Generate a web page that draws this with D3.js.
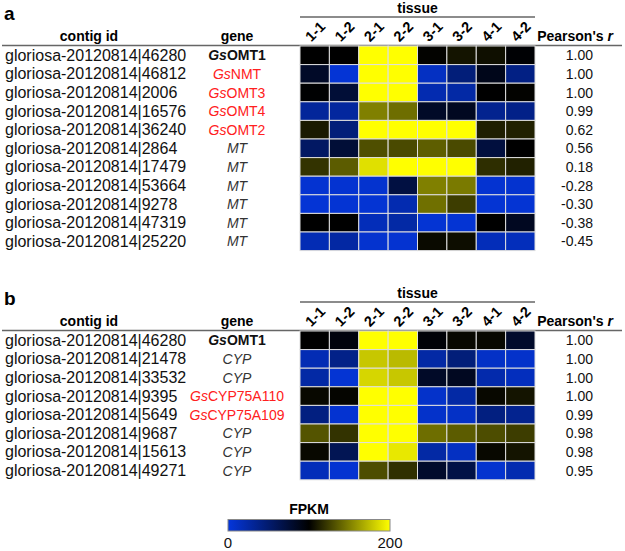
<!DOCTYPE html>
<html><head><meta charset="utf-8">
<script src="https://cdn.jsdelivr.net/npm/d3@7"></script>
<style>body{margin:0;background:#fff}svg{display:block;font-family:"Liberation Sans",Arial,sans-serif}</style>
</head><body><svg id="c" width="625" height="551"></svg>
<script>
const tissues = ["1-1","1-2","2-1","2-2","3-1","3-2","4-1","4-2"];
// Panel a
const contigsA = ["46280","46812","2006","16576","36240","2864","17479","53664","9278","47319","25220"];
const genesA = ["GsOMT1","GsNMT","GsOMT3","GsOMT4","GsOMT2","MT","MT","MT","MT","MT","MT"];
const pearsonA = ["1.00","1.00","1.00","0.99","0.62","0.56","0.18","-0.28","-0.30","-0.38","-0.45"];
const fpkmA = [
  [100,100,250,250,101,108,106,98],
  [82,3,250,250,12,45,88,40],
  [99,75,250,250,20,25,100,101],
  [30,28,150,143,82,85,35,38],
  [110,45,220,220,220,220,112,113],
  [55,75,131,129,137,129,72,100],
  [120,136,188,215,215,215,118,113],
  [5,5,6,70,150,148,5,6],
  [3,4,4,20,144,124,4,4],
  [100,100,16,25,4,4,100,85],
  [18,26,6,5,104,105,16,15]
];
// Panel b
const contigsB = ["46280","21478","33532","9395","5649","9687","15613","49271"];
const genesB = ["GsOMT1","CYP","CYP","GsCYP75A110","GsCYP75A109","CYP","CYP","CYP"];
const pearsonB = ["1.00","1.00","1.00","1.00","0.99","0.98","0.98","0.95"];
const fpkmB = [
  [100,94,250,250,97,103,103,80],
  [18,38,178,173,25,45,10,8],
  [25,4,184,178,82,85,22,14],
  [103,102,250,250,8,25,103,108],
  [42,5,250,250,8,10,42,35],
  [133,120,250,250,143,136,130,124],
  [103,62,250,191,25,12,103,108],
  [16,5,130,119,80,68,6,20]
];
const legendTicks = [0, 200];

const svg = d3.select("#c");
const BLUE = "#0436dc";
const color = d3.scaleLinear().domain([0,100,200]).range([BLUE,"#000000","#ffff00"]).clamp(true);
const x = d3.scaleBand().domain(tissues).range([300,535]);
const rowH = 18.6;

function panel(label, top, contigs, genes, pearson, data){
  const g = svg.append("g").attr("transform", `translate(0,${top})`);
  g.append("text").attr("x",4).attr("y",20).attr("font-size",19).attr("font-weight","bold").text(label);
  g.append("text").attr("x",(300+535)/2).attr("y",13).attr("text-anchor","middle")
    .attr("font-size",14).attr("font-weight","bold").text("tissue");
  g.append("line").attr("x1",300).attr("x2",535).attr("y1",17).attr("y2",17).attr("stroke","#666").attr("stroke-width",1.5);
  tissues.forEach(t=>{
    const cx = x(t)+x.bandwidth()/2;
    g.append("text").attr("transform",`translate(${cx+0.5},${31.5}) rotate(-45)`)
      .attr("text-anchor","middle").attr("dominant-baseline","central")
      .attr("font-size",14.5).attr("font-weight","bold").text(t);
  });
  g.append("text").attr("x",89).attr("y",41).attr("text-anchor","middle").attr("font-size",14).attr("font-weight","bold").text("contig id");
  g.append("text").attr("x",237).attr("y",41).attr("text-anchor","middle").attr("font-size",14).attr("font-weight","bold").text("gene");
  const pr = g.append("text").attr("x",575).attr("y",41).attr("text-anchor","middle").attr("font-size",14).attr("font-weight","bold");
  pr.append("tspan").text("Pearson's ");
  pr.append("tspan").attr("font-style","italic").text("r");
  g.append("line").attr("x1",2).attr("x2",622).attr("y1",45.5).attr("y2",45.5).attr("stroke","#666").attr("stroke-width",1.5);

  const y = d3.scaleBand().domain(d3.range(contigs.length)).range([46, 46+rowH*contigs.length]);
  data.forEach((row,i)=>{
    row.forEach((v,j)=>{
      g.append("rect").attr("x",x(tissues[j])).attr("y",y(i)).attr("width",x.bandwidth()).attr("height",y.bandwidth())
        .attr("fill",color(v)).attr("stroke","#dedede").attr("stroke-width",1);
    });
    const by = y(i)+y.bandwidth()/2+5;
    g.append("text").attr("x",5).attr("y",by+0.5).attr("font-size",16).attr("fill","#111").text("gloriosa-20120814|"+contigs[i]);
    const gn = genes[i];
    const t = g.append("text").attr("x",237).attr("y",by).attr("text-anchor","middle").attr("font-size",14);
    if (gn === "GsOMT1"){
      t.attr("font-weight","bold").attr("fill","#111");
      t.append("tspan").attr("font-style","italic").text("Gs");
      t.append("tspan").text("OMT1");
    } else if (gn.startsWith("Gs")){
      t.attr("fill","#ff2020");
      t.append("tspan").attr("font-style","italic").text("Gs");
      t.append("tspan").text(gn.slice(2));
    } else {
      t.attr("font-style","italic").attr("fill","#333").text(gn);
    }
    g.append("text").attr("x",593).attr("y",by).attr("text-anchor","end").attr("font-size",14).attr("fill","#111").text(pearson[i]);
  });
}
panel("a", 0, contigsA, genesA, pearsonA, fpkmA);
panel("b", 285, contigsB, genesB, pearsonB, fpkmB);

// Legend
const defs = svg.append("defs");
const grad = defs.append("linearGradient").attr("id","lg");
[[0,0],[0.5,100],[1,200]].forEach(([o,v])=>grad.append("stop").attr("offset",o).attr("stop-color",color(v)));
const lx = d3.scaleLinear().domain([0,200]).range([228,390]);
svg.append("text").attr("x",309).attr("y",514).attr("text-anchor","middle").attr("font-size",14).attr("font-weight","bold").text("FPKM");
svg.append("rect").attr("x",lx(0)).attr("y",519.5).attr("width",lx(200)-lx(0)).attr("height",11.5)
  .attr("fill","url(#lg)").attr("stroke","#888").attr("stroke-width",1);
legendTicks.forEach(v=>{
  svg.append("text").attr("x",lx(v)).attr("y",548).attr("text-anchor","middle").attr("font-size",15).attr("fill","#111").text(v);
});
</script></body></html>
